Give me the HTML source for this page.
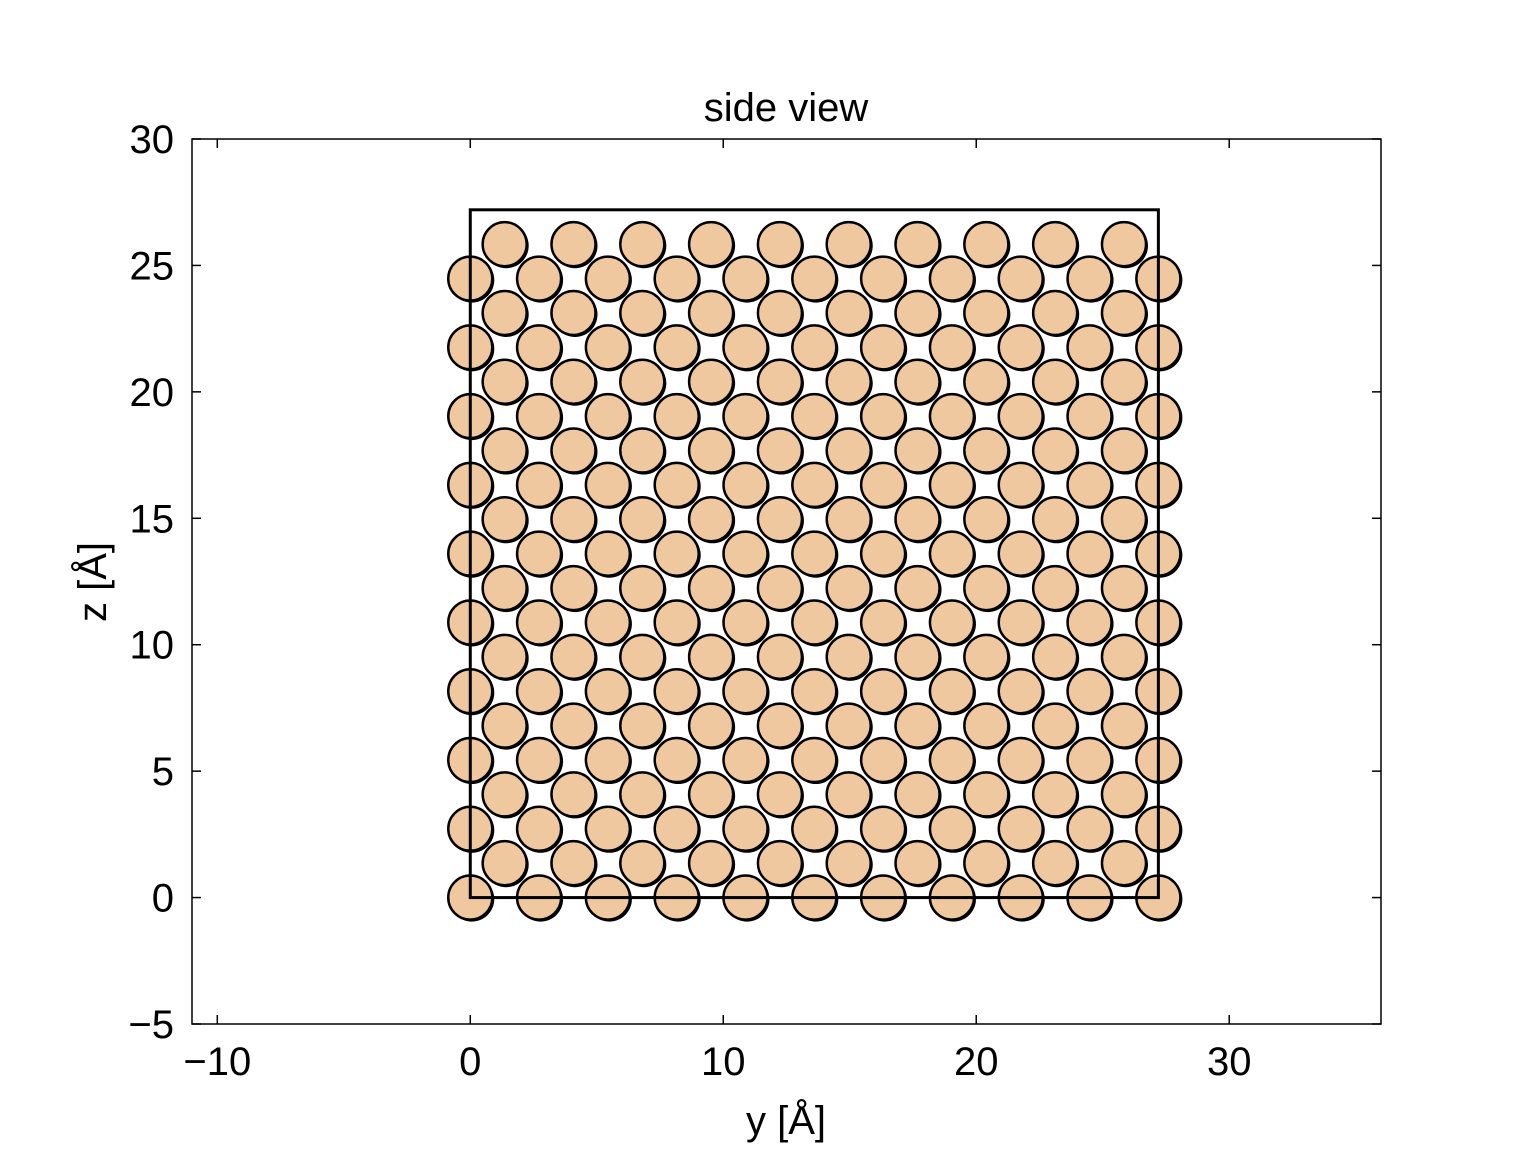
<!DOCTYPE html>
<html><head><meta charset="utf-8"><style>
body{margin:0;background:#fff}
svg text{font-family:"Liberation Sans",Arial,sans-serif;fill:#000}
</style></head><body>
<svg id="chart" width="1536" height="1152" xmlns="http://www.w3.org/2000/svg">
<text x="786" y="121" font-size="40" text-anchor="middle" style="font-size:40px">side view</text>
<g id="atoms"></g>
<g id="axes"></g>
</svg>
<script>
const rowZ=[0,1.36,2.72,4.08,5.44,6.8,8.16,9.52,10.88,12.24,13.6,14.96,16.32,17.68,19.04,20.4,21.76,23.12,24.48,25.84];
const evenY=[0,2.72,5.44,8.16,10.88,13.6,16.32,19.04,21.76,24.48,27.2];
const oddY=[1.36,4.08,6.8,9.52,12.24,14.96,17.68,20.4,23.12,25.84];
const xTicks=[-10,0,10,20,30];
const yTicks=[-5,0,5,10,15,20,25,30];
const boxW=27.2, boxH=27.2, atomR=0.87;
const L=192,R=1381,T=139,B=1024, xmin=-11,xmax=36,ymin=-5,ymax=30;
const sx=v=>L+(v-xmin)/(xmax-xmin)*(R-L);
const sy=v=>B-(v-ymin)/(ymax-ymin)*(B-T);
const NS='http://www.w3.org/2000/svg';
function mk(p,tag,a){const e=document.createElementNS(NS,tag);for(const k in a)e.setAttribute(k,a[k]);p.appendChild(e);return e;}
const atoms=document.getElementById('atoms'), axes=document.getElementById('axes');
const r=atomR*(R-L)/(xmax-xmin);
rowZ.forEach((z,i)=>{
  const ys=i%2===0?evenY:oddY;
  ys.forEach(y=>{
    const s=mk(atoms,'circle',{cx:sx(y)+1.5,cy:sy(z)+1.5,r:r+0.5,fill:'#000'});
    
    
    const c=mk(atoms,'circle',{cx:sx(y),cy:sy(z),r:r,fill:'#f0c8a0',stroke:'#000','stroke-width':2.5});
    
    
  });
});
const box=mk(axes,'rect',{x:sx(0),y:sy(boxH),width:sx(boxW)-sx(0),height:sy(0)-sy(boxH),fill:'none',stroke:'#000','stroke-width':3});


const frame=mk(axes,'rect',{x:L,y:T,width:R-L,height:B-T,fill:'none',stroke:'#000','stroke-width':1.5});


xTicks.forEach(v=>{
  const x=sx(v);
  mk(axes,'line',{x1:x,x2:x,y1:B,y2:B-9,stroke:'#000','stroke-width':1.5});
  mk(axes,'line',{x1:x,x2:x,y1:T,y2:T+9,stroke:'#000','stroke-width':1.5});
  const t=mk(axes,'text',{x:x,y:B+51,'text-anchor':'middle','font-size':40});
  t.textContent=v<0?'\u2212'+(-v):v;
  
  
});
yTicks.forEach(v=>{
  const y=sy(v);
  mk(axes,'line',{x1:L,x2:L+9,y1:y,y2:y,stroke:'#000','stroke-width':1.5});
  mk(axes,'line',{x1:R,x2:R-9,y1:y,y2:y,stroke:'#000','stroke-width':1.5});
  const t=mk(axes,'text',{x:L-18,y:y+14,'text-anchor':'end','font-size':40});
  t.textContent=v<0?'\u2212'+(-v):v;
  
  
});
const xl=mk(axes,'text',{x:786,y:1134,'text-anchor':'middle','font-size':40});
xl.textContent='y [Å]';


const yl=mk(axes,'text',{x:0,y:0,'text-anchor':'middle','font-size':40,transform:'translate(106,582) rotate(-90)'});
yl.textContent='z [Å]';


</script>
</body></html>
